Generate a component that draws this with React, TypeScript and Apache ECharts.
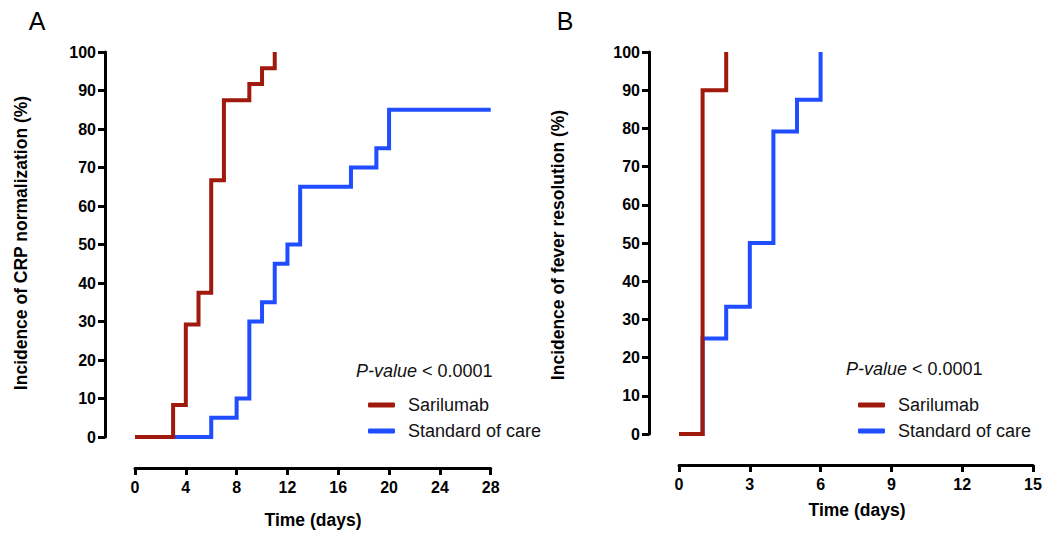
import React, { useEffect, useRef } from "react";
import * as echarts from "echarts";

// Panel A: CRP normalization (Kaplan-Meier style cumulative incidence)
const crpDaysSarilumab = [0, 3, 4, 5, 6, 7, 9, 10, 11];
const crpPctSarilumab = [0, 8.3, 29.2, 37.5, 66.7, 87.5, 91.7, 95.8, 100];
const crpDaysSoc = [0, 6, 8, 9, 10, 11, 12, 13, 17, 19, 20, 28];
const crpPctSoc = [0, 5, 10, 30, 35, 45, 50, 65, 70, 75, 85, 85];

// Panel B: fever resolution
const feverDaysSarilumab = [0, 1, 2];
const feverPctSarilumab = [0, 90, 100];
const feverDaysSoc = [0, 1, 2, 3, 4, 5, 6];
const feverPctSoc = [0, 25, 33.3, 50, 79.2, 87.5, 100];

const seriesNames = ["Sarilumab", "Standard of care"];
const panelLetters = ["A", "B"];
const yTitles = ["Incidence of CRP normalization (%)", "Incidence of fever resolution (%)"];
const xTitle = "Time (days)";
const pValueText = "< 0.0001";
const xMaxA = 28;
const xStepA = 4;
const xMaxB = 15;
const xStepB = 3;

const RED = "#A0190D";
const BLUE = "#1F4DFF";
const FONT = "Liberation Sans, Arial, Helvetica, sans-serif";

const zip = (xs: number[], ys: number[]) => xs.map((x, i) => [x, ys[i]]);

export default function App() {
  const ref = useRef<HTMLDivElement>(null);

  useEffect(() => {
    if (!ref.current) return;
    const chart = echarts.init(ref.current, undefined, { renderer: "svg" });

    const axisLine = { show: true, onZero: false, lineStyle: { color: "#000", width: 3 } };
    const axisTick = { show: true, length: 7, lineStyle: { color: "#000", width: 3 } };
    const axisLabelBase = { color: "#000", fontSize: 16, fontWeight: "bold" as const, fontFamily: FONT };

    const mkX = (gridIndex: number, max: number, step: number) => ({
      type: "value",
      gridIndex,
      min: 0,
      max,
      interval: step,
      offset: 31,
      axisLine,
      axisTick,
      splitLine: { show: false },
      axisLabel: { ...axisLabelBase, margin: 11, showMaxLabel: true, showMinLabel: true },
    });
    const mkY = (gridIndex: number) => ({
      type: "value",
      gridIndex,
      min: 0,
      max: 100,
      interval: 10,
      offset: 30,
      axisLine,
      axisTick,
      splitLine: { show: false },
      axisLabel: { ...axisLabelBase, margin: 9 },
    });

    const mkSeries = (name: string, color: string, idx: number, data: number[][], z: number) => ({
      type: "line",
      name,
      xAxisIndex: idx,
      yAxisIndex: idx,
      step: "end",
      data,
      color,
      showSymbol: false,
      symbol: "none",
      z,
      lineStyle: { color, width: 4, cap: "butt", join: "miter" },
      itemStyle: { color },
    });

    const mkLegend = (left: number) => ({
      data: seriesNames,
      orient: "vertical",
      left,
      top: 396,
      padding: 0,
      itemGap: 8,
      itemWidth: 27,
      itemHeight: 5,
      icon: "roundRect",
      selectedMode: false,
      textStyle: { fontSize: 18, fontFamily: FONT, color: "#111", padding: [0, 0, 0, 8] },
    });

    const titleText = (x: number, y: number, text: string, rotate: boolean) => ({
      type: "text",
      x,
      y,
      rotation: rotate ? Math.PI / 2 : 0,
      style: {
        text,
        align: "center",
        verticalAlign: "middle",
        font: `bold 17.5px ${FONT}`,
        fill: "#000",
      },
    });

    const pValue = (x: number, y: number) => ({
      type: "text",
      x,
      y,
      style: {
        text: `{i|P-value} ${pValueText}`,
        align: "left",
        verticalAlign: "middle",
        font: `18px ${FONT}`,
        fill: "#111",
        rich: { i: { fontStyle: "italic", fontSize: 18, fontFamily: FONT, fill: "#111" } },
      },
    });

    const letter = (x: number, y: number, text: string) => ({
      type: "text",
      x,
      y,
      style: { text, align: "center", verticalAlign: "middle", font: `25px ${FONT}`, fill: "#000" },
    });

    chart.setOption({
      animation: false,
      backgroundColor: "#fff",
      grid: [
        { left: 135, top: 52, width: 355.7, height: 385 },
        { left: 679, top: 52, width: 354, height: 382 },
      ],
      xAxis: [mkX(0, xMaxA, xStepA), mkX(1, xMaxB, xStepB)],
      yAxis: [mkY(0), mkY(1)],
      legend: [mkLegend(368), mkLegend(858)],
      series: [
        mkSeries(seriesNames[1], BLUE, 0, zip(crpDaysSoc, crpPctSoc), 2),
        mkSeries(seriesNames[0], RED, 0, zip(crpDaysSarilumab, crpPctSarilumab), 3),
        mkSeries(seriesNames[1], BLUE, 1, zip(feverDaysSoc, feverPctSoc), 2),
        mkSeries(seriesNames[0], RED, 1, zip(feverDaysSarilumab, feverPctSarilumab), 3),
      ],
      graphic: [
        letter(37, 21, panelLetters[0]),
        letter(565, 21, panelLetters[1]),
        titleText(21, 243, yTitles[0], true),
        titleText(558, 245, yTitles[1], true),
        titleText(313, 520, xTitle, false),
        titleText(857, 510, xTitle, false),
        pValue(356, 371),
        pValue(846, 369),
      ],
    });

    return () => chart.dispose();
  }, []);

  return (
    <div
      ref={ref}
      style={{ position: "fixed", left: 0, top: 0, width: 1045, height: 536, background: "#fff" }}
    />
  );
}
